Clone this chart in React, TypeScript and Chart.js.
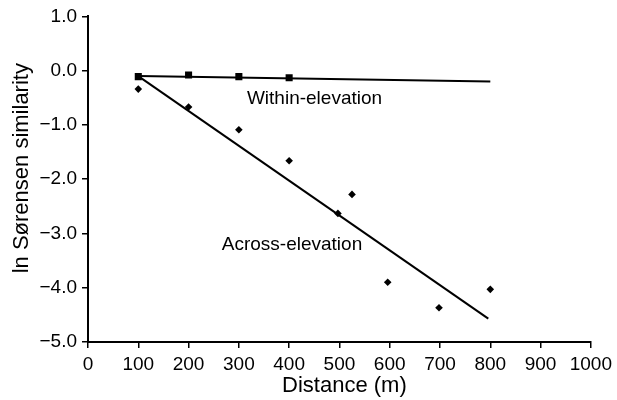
import React, { useEffect, useRef } from "react";
import { Chart, registerables } from "chart.js";

Chart.register(...registerables);

// Within-elevation comparisons (squares)
const withinX = [100, 200, 300, 400];
const withinY = [-0.11, -0.08, -0.11, -0.13];
// Across-elevation comparisons (diamonds)
const acrossX = [100, 200, 300, 400, 497, 525, 596, 698, 800];
const acrossY = [-0.34, -0.67, -1.09, -1.66, -2.63, -2.28, -3.9, -4.37, -4.03];
// Regression lines
const withinFitX = [100, 800];
const withinFitY = [-0.1, -0.2];
const acrossFitX = [100, 796];
const acrossFitY = [-0.1, -4.57];

const xTicks = [0, 100, 200, 300, 400, 500, 600, 700, 800, 900, 1000];
const yTicks = [1, 0, -1, -2, -3, -4, -5];

const xTitle = "Distance (m)";
const yTitle = "ln Sørensen similarity";
const annotations = [
  { text: "Within-elevation", x: 316, y: -0.61 },
  { text: "Across-elevation", x: 266, y: -3.3 },
];

const FONT = "'Liberation Sans', Arial, Helvetica, sans-serif";

const pts = (xs: number[], ys: number[]) => xs.map((x, i) => ({ x, y: ys[i] }));

const textPlugin = {
  id: "textPlugin",
  afterDraw(chart: any) {
    const { ctx, chartArea, scales } = chart;
    ctx.save();
    ctx.fillStyle = "#000";
    ctx.font = `19px ${FONT}`;
    ctx.textAlign = "left";
    ctx.textBaseline = "alphabetic";
    for (const a of annotations) {
      ctx.fillText(a.text, scales.x.getPixelForValue(a.x), scales.y.getPixelForValue(a.y));
    }
    ctx.font = `22px ${FONT}`;
    ctx.textAlign = "center";
    ctx.fillText(xTitle, (chartArea.left + chartArea.right) / 2 + 5, chartArea.bottom + 50);
    ctx.translate(chartArea.left - 60, (chartArea.top + chartArea.bottom) / 2 - 11);
    ctx.rotate(-Math.PI / 2);
    ctx.fillText(yTitle, 0, 0);
    ctx.restore();
  },
};

export default function App() {
  const ref = useRef<HTMLCanvasElement>(null);
  useEffect(() => {
    if (!ref.current) return;
    const chart = new Chart(ref.current, {
      type: "scatter",
      data: {
        datasets: [
          {
            data: pts(withinFitX, withinFitY),
            showLine: true,
            borderColor: "#000",
            borderWidth: 2,
            pointRadius: 0,
          },
          {
            data: pts(acrossFitX, acrossFitY),
            showLine: true,
            borderColor: "#000",
            borderWidth: 2,
            pointRadius: 0,
          },
          {
            data: pts(withinX, withinY),
            pointStyle: "rect",
            pointRadius: 5,
            backgroundColor: "#000",
            borderColor: "#000",
            borderWidth: 0,
          },
          {
            data: pts(acrossX, acrossY),
            pointStyle: "rectRot",
            pointRadius: 3.8,
            backgroundColor: "#000",
            borderColor: "#000",
            borderWidth: 0,
          },
        ],
      },
      options: {
        responsive: false,
        animation: false,
        layout: { padding: { top: 16, right: 25, left: 0, bottom: 0 } },
        plugins: { legend: { display: false }, tooltip: { enabled: false } },
        scales: {
          x: {
            type: "linear",
            min: 0,
            max: 1000,
            afterFit: (s: any) => {
              s.height = 58;
            },
            afterBuildTicks: (s: any) => {
              s.ticks = xTicks.map((v) => ({ value: v }));
            },
            ticks: {
              color: "#000",
              font: { family: FONT, size: 19 },
              padding: 5,
              maxRotation: 0,
              autoSkip: false,
              callback: (v: any) => String(v),
            },
            grid: {
              display: true,
              drawOnChartArea: false,
              drawTicks: true,
              tickLength: 6,
              color: "#000",
              lineWidth: 1.5,
            },
            border: { display: true, color: "#000", width: 2 },
          },
          y: {
            type: "linear",
            min: -5,
            max: 1,
            afterFit: (s: any) => {
              s.width = 88;
            },
            afterBuildTicks: (s: any) => {
              s.ticks = yTicks.map((v) => ({ value: v }));
            },
            ticks: {
              color: "#000",
              font: { family: FONT, size: 19 },
              padding: 5,
              autoSkip: false,
              callback: (v: any) => (v < 0 ? "\u2212" + Math.abs(v).toFixed(1) : Number(v).toFixed(1)),
            },
            grid: {
              display: true,
              drawOnChartArea: false,
              drawTicks: true,
              tickLength: 6,
              color: "#000",
              lineWidth: 1.5,
            },
            border: { display: true, color: "#000", width: 2 },
          },
        },
      },
      plugins: [textPlugin],
    } as any);
    return () => chart.destroy();
  }, []);
  return (
    <canvas
      ref={ref}
      width={617}
      height={400}
      style={{ position: "absolute", left: 0, top: 0, display: "block", background: "#fff" }}
    />
  );
}
